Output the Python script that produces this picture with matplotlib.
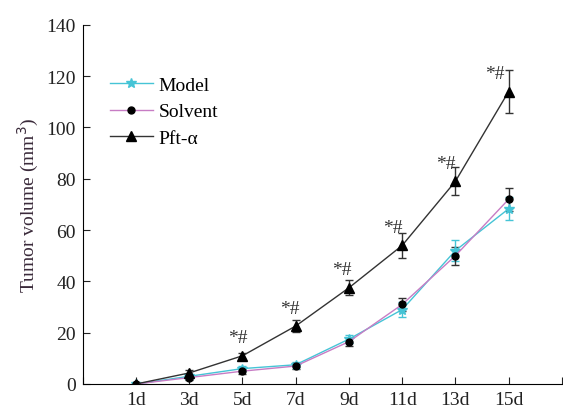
import numpy as np
from matplotlib import pyplot as plt
from matplotlib.lines import Line2D

plt.rcParams['font.family'] = ['Liberation Serif', 'DejaVu Serif']

# data
days = ['1d', '3d', '5d', '7d', '9d', '11d', '13d', '15d']
model = [0, 3, 6, 7.5, 17.5, 29, 52, 68.3]
model_err = [0.3, 1, 1, 1, 1.5, 3, 4, 4.5]
solvent = [0, 2.5, 5, 7, 16.5, 31, 50, 72]
solvent_err = [0.3, 1, 1, 1, 1.5, 2.5, 3.5, 4.5]
pft = [0, 4.3, 11, 22.6, 37.5, 54, 79, 114]
pft_err = [0.3, 1, 1.2, 2.5, 3, 5, 5.5, 8.5]
marks = ['', '', '*#', '*#', '*#', '*#', '*#', '*#']

x = np.arange(1, len(days) + 1)

fig = plt.figure(figsize=(5.63, 4.10), dpi=100)
ax = fig.add_axes([0.147, 0.061, 0.851, 0.876])

ax.errorbar(x, model, yerr=model_err, color='#45c4d6', lw=1, marker='*', ms=7,
            mfc='#45c4d6', mec='#45c4d6', capsize=3, elinewidth=1)
ax.errorbar(x, solvent, yerr=solvent_err, color='#c77cc4', lw=1, marker='o', ms=5,
            mfc='black', mec='black', ecolor='#333333', capsize=3, elinewidth=1)
ax.errorbar(x, pft, yerr=pft_err, color='#333333', lw=1, marker='^', ms=7,
            mfc='black', mec='black', capsize=3, elinewidth=1)

# significance marks, left of the error bar
for xi, yi, ei, m in zip(x, pft, pft_err, marks):
    if m:
        ax.text(xi - 0.05 - 0.025 * ei, yi + 7, m, ha='center', va='center',
                fontsize=14, color='#333333')

ax.set_xlim(0, 9)
ax.set_ylim(0, 140)
ax.set_xticks(np.arange(0, 10))
ax.set_xticklabels([''] + days + [''])
ax.set_yticks(np.arange(0, 141, 20))
ax.tick_params(direction='in', length=5, labelsize=14, colors='#222222', pad=5)
ax.spines['top'].set_visible(False)
ax.spines['right'].set_visible(False)
ax.set_ylabel('Tumor volume (mm$^3$)', fontsize=14, color='#3a2a3a')

handles = [
    Line2D([], [], color='#45c4d6', lw=1, marker='*', ms=7, mfc='#45c4d6', mec='#45c4d6'),
    Line2D([], [], color='#c77cc4', lw=1, marker='o', ms=5, mfc='black', mec='black'),
    Line2D([], [], color='#333333', lw=1, marker='^', ms=7, mfc='black', mec='black'),
]
ax.legend(handles, ['Model', 'Solvent', 'Pft-α'], loc='upper left',
          bbox_to_anchor=(0.02, 0.905), frameon=False, fontsize=14,
          handlelength=2.2, handletextpad=0.3, labelspacing=0.45)

plt.savefig('out.png', dpi=100)
